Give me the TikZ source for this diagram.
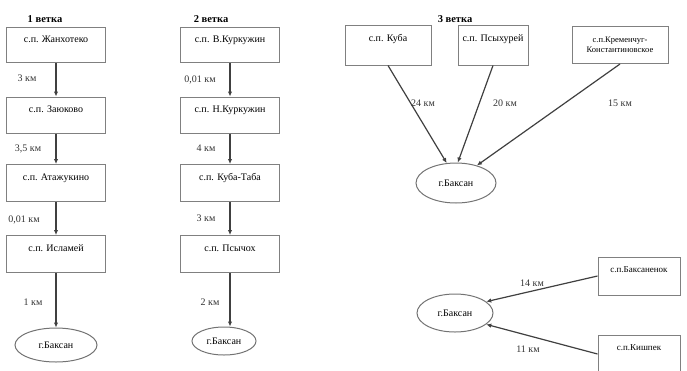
\documentclass[tikz,border=0pt]{standalone}
\usepackage{fontspec}
\setmainfont{Liberation Serif}
\usetikzlibrary{arrows.meta,shapes.geometric}
\begin{document}
\begin{tikzpicture}[x=1pt,y=-1pt,
  font=\fontsize{10}{12}\selectfont,
  box/.style={draw=black!50, line width=1pt, rectangle, inner sep=2pt, align=center},
  town/.style={draw=black!55, line width=1pt, ellipse, inner sep=0pt},
  conn/.style={draw=black!75, line width=1.2pt, -{Latex[length=5pt,width=4.5pt]}},
  dist/.style={font=\fontsize{10}{12}\selectfont, text=black!80},
  ttl/.style={font=\fontsize{10.5}{12}\selectfont\bfseries}]
\useasboundingbox (0,0) rectangle (687,370);
% branch 1
\node[ttl] (t1) at (45,19) {1 ветка};
\node[box, minimum width=99, minimum height=35] (a1) at (56,45) {с.п. Жанхотеко\\\mbox{}};
\node[box, minimum width=99, minimum height=36] (a2) at (56,115) {с.п. Заюково\\\mbox{}};
\node[box, minimum width=99, minimum height=37] (a3) at (56,183) {с.п. Атажукино\\\mbox{}};
\node[box, minimum width=99, minimum height=37] (a4) at (56,254) {с.п. Исламей\\\mbox{}};
\node[town, minimum width=82, minimum height=34] (g1) at (56,345) {г.Баксан};
\draw[conn] (a1) -- (a2);
\draw[conn] (a2) -- (a3);
\draw[conn] (a3) -- (a4);
\draw[conn] (a4) -- (g1);
\node[dist] (d11) at (27,78) {3 км};
\node[dist] (d12) at (28,149) {3,5 км};
\node[dist] (d13) at (24,220) {0,01 км};
\node[dist] (d14) at (33,302) {1 км};
% branch 2
\node[ttl] (t2) at (211,19) {2 ветка};
\node[box, minimum width=99, minimum height=35] (b1) at (230,45) {с.п. В.Куркужин\\\mbox{}};
\node[box, minimum width=99, minimum height=36] (b2) at (230,115) {с.п. Н.Куркужин\\\mbox{}};
\node[box, minimum width=99, minimum height=37] (b3) at (230,183) {с.п. Куба-Таба\\\mbox{}};
\node[box, minimum width=99, minimum height=37] (b4) at (230,254) {с.п. Псычох\\\mbox{}};
\node[town, minimum width=64, minimum height=28] (g2) at (224,341) {г.Баксан};
\draw[conn] (b1) -- (b2);
\draw[conn] (b2) -- (b3);
\draw[conn] (b3) -- (b4);
\draw[conn] (b4.south) -- (g2.north -| b4.south);
\node[dist] (d21) at (200,80) {0,01 км};
\node[dist] (d22) at (206,148) {4 км};
\node[dist] (d23) at (206,218) {3 км};
\node[dist] (d24) at (210,302) {2 км};
% branch 3
\node[ttl] (t3) at (455,19) {3 ветка};
\node[box, minimum width=86, minimum height=40] (c1) at (388,45) {с.п. Куба\\[2pt]\mbox{}};
\node[box, minimum width=70, minimum height=40] (c2) at (493,45) {с.п. Псыхурей\\[2pt]\mbox{}};
\node[box, minimum width=96, minimum height=37, text width=92pt, font=\fontsize{8.5}{10.5}\selectfont] (c3) at (620,45) {с.п.Кременчуг-\\Константиновское};
\node[town, minimum width=80, minimum height=40] (g3) at (456,183) {г.Баксан};
\draw[conn] (c1.south) -- (g3.115);
\draw[conn] (c2.south) -- (g3.85);
\draw[conn] (c3.south) -- (g3.40);
\node[dist] (d31) at (423,103) {24 км};
\node[dist] (d32) at (505,103) {20 км};
\node[dist] (d33) at (620,103) {15 км};
% bottom
\node[town, minimum width=76, minimum height=38] (g4) at (455,313) {г.Баксан};
\node[box, minimum width=82, minimum height=38, font=\fontsize{9}{11}\selectfont] (e4) at (639,276) {с.п.Баксаненок\\[2pt]\mbox{}};
\node[box, minimum width=82, minimum height=38, font=\fontsize{9}{11}\selectfont] (e5) at (639,354) {с.п.Кишпек\\[2pt]\mbox{}};
\draw[conn] (e4.west) -- (g4.20);
\draw[conn] (e5.west) -- (g4.-20);
\node[dist] (d41) at (532,283) {14 км};
\node[dist] (d42) at (528,349) {11 км};
\end{tikzpicture}
\end{document}
